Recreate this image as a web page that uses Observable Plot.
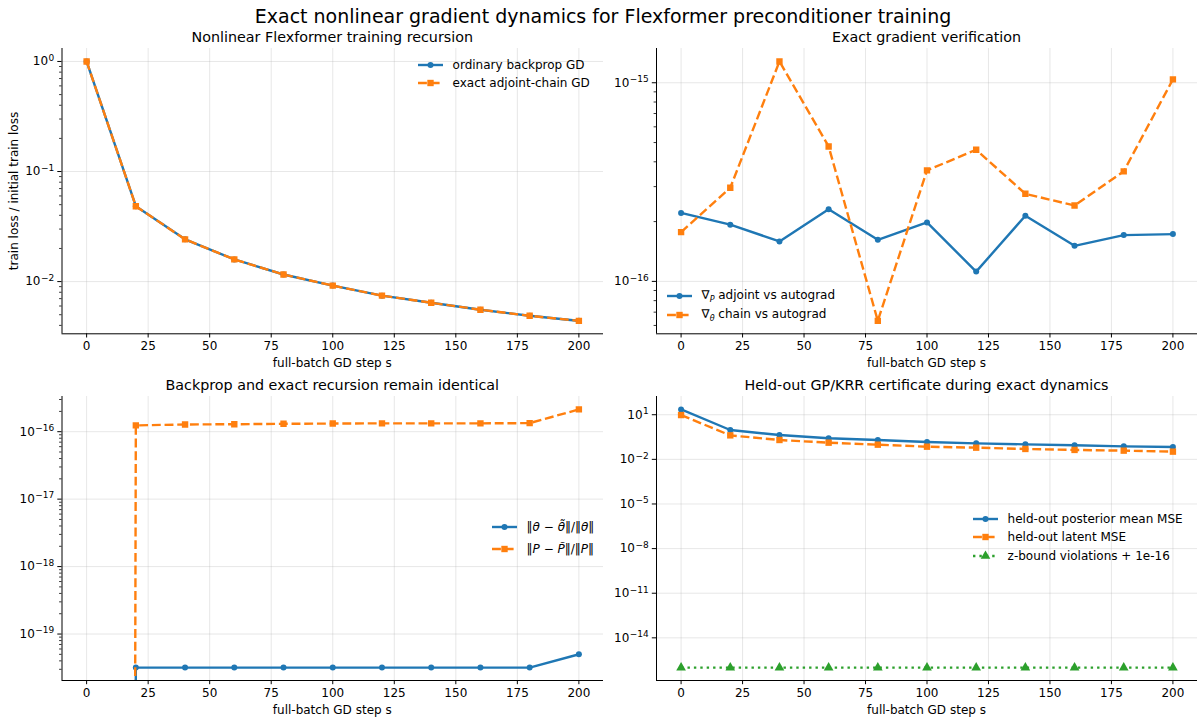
<!DOCTYPE html>
<html>
<head>
<meta charset="utf-8">
<script src="https://cdn.jsdelivr.net/npm/d3@7"></script>
<script src="https://cdn.jsdelivr.net/npm/@observablehq/plot@0.6"></script>
<style>
  body { margin: 0; background: #fff; font-family: "DejaVu Sans", sans-serif; }
  #fig { position: relative; width: 1203px; height: 724px; overflow: hidden; background: #fff; }
  #fig svg.panel { position: absolute; left: 0; top: 0; }
  .t { position: absolute; white-space: nowrap; color: #000; line-height: 1; }
  .leg { position: absolute; display: flex; align-items: center; height: 16px; font-size: 12px; color: #000; white-space: nowrap; }
  .leg svg { flex: none; }
  .leg span { margin-left: 9.6px; }
</style>
</head>
<body>
<div id="fig"></div>
<script>
// ---------------- data ----------------
const steps = [0, 20, 40, 60, 80, 100, 120, 140, 160, 180, 200];

// panel 1: nonlinear Flexformer training recursion (train loss / initial train loss)
const lossBackpropGD = [1.0, 0.0484, 0.0242, 0.0159, 0.0116, 0.0092, 0.00745, 0.00643, 0.00555, 0.00489, 0.0044];
const lossAdjointChainGD = [1.0, 0.0484, 0.0242, 0.0159, 0.0116, 0.0092, 0.00745, 0.00643, 0.00555, 0.00489, 0.0044];

// panel 2: exact gradient verification
const gradPAdjointErr = [2.21e-16, 1.93e-16, 1.59e-16, 2.31e-16, 1.62e-16, 1.98e-16, 1.12e-16, 2.14e-16, 1.51e-16, 1.71e-16, 1.73e-16];
const gradThetaChainErr = [1.77e-16, 2.96e-16, 1.28e-15, 4.78e-16, 6.33e-17, 3.62e-16, 4.6e-16, 2.76e-16, 2.41e-16, 3.58e-16, 1.04e-15];

// panel 3: backprop vs exact recursion (relative differences; 0 at s = 0)
const thetaRelDiff = [0, 3.18e-20, 3.18e-20, 3.18e-20, 3.18e-20, 3.18e-20, 3.18e-20, 3.18e-20, 3.18e-20, 3.18e-20, 5.0e-20];
const pRelDiff = [0, 1.24e-16, 1.28e-16, 1.29e-16, 1.31e-16, 1.32e-16, 1.33e-16, 1.33e-16, 1.33e-16, 1.34e-16, 2.14e-16];

// panel 4: held-out GP/KRR certificate
const heldoutPosteriorMeanMSE = [22.8, 0.94, 0.43, 0.26, 0.2, 0.147, 0.119, 0.102, 0.088, 0.075, 0.068];
const heldoutLatentMSE = [9.5, 0.41, 0.2, 0.132, 0.097, 0.071, 0.061, 0.05, 0.043, 0.0385, 0.033];
const zBoundViolations = [0, 0, 0, 0, 0, 0, 0, 0, 0, 0, 0];
const zBoundOffset = 1e-16;

// ticks
const xTicks = [0, 25, 50, 75, 100, 125, 150, 175, 200];
const xDomain = [-10, 210];
const yTicksTrain = [1e-2, 1e-1, 1e0];
const yTicksGrad = [1e-16, 1e-15];
const yTicksDiff = [1e-19, 1e-18, 1e-17, 1e-16];
const yTicksHeldout = [1e-14, 1e-11, 1e-8, 1e-5, 1e-2, 1e1];

// text
const suptitle = "Exact nonlinear gradient dynamics for Flexformer preconditioner training";
const titles = ["Nonlinear Flexformer training recursion", "Exact gradient verification",
  "Backprop and exact recursion remain identical", "Held-out GP/KRR certificate during exact dynamics"];
const xLabel = "full-batch GD step s";
const yLabelTrain = "train loss / initial train loss";

// ---------------- style ----------------
const BLUE = "#1f77b4", ORANGE = "#ff7f0e", GREEN = "#2ca02c";
const LW = 2.4;
const DASH = "8.9,3.8";
const DOT = "2.4,4";
const W = 1203, H = 724;
const frames = {
  tl: [61.5, 603, 48, 333.3],
  tr: [656, 1197, 48, 333.3],
  bl: [61.5, 603, 396, 680],
  br: [656, 1197, 396, 680]
};

const fig = document.getElementById("fig");

function logDomain(arrays) {
  const l = arrays.flat().filter(v => v > 0).map(Math.log10);
  const lo = d3.min(l), hi = d3.max(l), m = (hi - lo) * 0.05;
  return [10 ** (lo - m), 10 ** (hi + m)];
}
function minorTicks(dom) {
  const out = [];
  const e0 = Math.floor(Math.log10(dom[0])), e1 = Math.ceil(Math.log10(dom[1]));
  for (let e = e0; e <= e1; e++) for (let k = 2; k <= 9; k++) {
    const v = k * 10 ** e;
    if (v >= dom[0] && v <= dom[1]) out.push(v);
  }
  return out;
}
const powFmt = d => "10^" + String(Math.round(Math.log10(d))).replace("-", "\u2212");

function panel(frame, series, majors, withMinor) {
  const [x0, x1, y0, y1] = frame;
  const yDomain = logDomain(series.map(s => s.values.map(v => v + (s.offset || 0))));
  const marks = [
    Plot.gridX(xTicks, {stroke: "#b0b0b0", strokeOpacity: 0.3, strokeWidth: 1}),
    Plot.gridY(majors, {stroke: "#b0b0b0", strokeOpacity: 0.3, strokeWidth: 1})
  ];
  for (const s of series) {
    const data = steps.map((x, i) => ({x, y: s.values[i] + (s.offset || 0)}));
    const yAcc = d => (d.y > 0 ? d.y : 1e-300);
    marks.push(Plot.line(data, {x: "x", y: yAcc, stroke: s.color, strokeWidth: LW,
      strokeDasharray: s.dash, strokeLinecap: s.dash ? "butt" : "square", strokeLinejoin: "round", clip: true}));
    marks.push(Plot.dot(data, {x: "x", y: yAcc, symbol: s.symbol, r: s.r, fill: s.color, stroke: "none", clip: true}));
  }
  marks.push(
    Plot.axisX(xTicks, {anchor: "bottom", tickSize: 4.2, tickPadding: 3.5, fontSize: 12, label: null,
      tickFormat: d => String(d), strokeWidth: 1}),
    Plot.axisY(majors, {anchor: "left", tickSize: 4.2, tickPadding: 3.5, fontSize: 12, label: null,
      tickFormat: powFmt, strokeWidth: 1})
  );
  if (withMinor) {
    marks.push(Plot.axisY(minorTicks(yDomain), {anchor: "left", tickSize: 2.4, label: null,
      tickFormat: () => "", strokeWidth: 0.8}));
  }
  marks.push(
    Plot.ruleX([xDomain[0]], {stroke: "black", strokeWidth: 1}),
    Plot.ruleY([yDomain[0]], {stroke: "black", strokeWidth: 1})
  );
  const svg = Plot.plot({
    width: W, height: H,
    marginLeft: x0, marginRight: W - x1, marginTop: y0, marginBottom: H - y1,
    style: {background: "transparent", color: "black", fontFamily: "DejaVu Sans", fontSize: "12px", overflow: "visible"},
    x: {domain: xDomain},
    y: {type: "log", domain: yDomain},
    marks
  });
  svg.classList.add("panel");
  // render 10^k labels with real superscripts
  svg.querySelectorAll("text").forEach(t => {
    const m = /^10\^(.+)$/.exec(t.textContent);
    if (!m) return;
    t.textContent = "10";
    const ts = document.createElementNS("http://www.w3.org/2000/svg", "tspan");
    ts.setAttribute("dy", "-0.5em");
    ts.setAttribute("dx", "0.5");
    ts.setAttribute("font-size", "9px");
    ts.textContent = m[1];
    t.appendChild(ts);
  });
  fig.appendChild(svg);
}

function text(str, x, y, size, opts = {}) {
  const d = document.createElement("div");
  d.className = "t";
  d.textContent = str;
  d.style.fontSize = size + "px";
  d.style.left = x + "px";
  d.style.top = y + "px";
  d.style.transform = opts.rotate ? "translate(-50%,-50%) rotate(-90deg)" : "translate(-50%,-50%)";
  fig.appendChild(d);
}

function legend(items, x, rowYs) {
  items.forEach((it, i) => {
    const row = document.createElement("div");
    row.className = "leg";
    row.style.left = x + "px";
    row.style.top = (rowYs[i] - 8) + "px";
    const s = d3.create("svg").attr("width", 25).attr("height", 16);
    s.append("line").attr("x1", 0).attr("x2", 25).attr("y1", 8).attr("y2", 8)
      .attr("stroke", it.color).attr("stroke-width", LW)
      .attr("stroke-dasharray", it.dash || null)
      .attr("stroke-linecap", it.dash ? "butt" : "square");
    const sym = d3.symbol(it.symbol === "square" ? d3.symbolSquare : it.symbol === "triangle" ? d3.symbolTriangle : d3.symbolCircle,
      Math.PI * it.r * it.r);
    s.append("path").attr("d", sym()).attr("transform", "translate(12.5,8)").attr("fill", it.color);
    row.appendChild(s.node());
    const sp = document.createElement("span");
    sp.innerHTML = it.html;
    row.appendChild(sp);
    fig.appendChild(row);
  });
}

// ---------------- series ----------------
const sBackprop = {values: lossBackpropGD, color: BLUE, symbol: "circle", r: 3, html: "ordinary backprop GD"};
const sAdjoint = {values: lossAdjointChainGD, color: ORANGE, dash: DASH, symbol: "square", r: 3.6, html: "exact adjoint-chain GD"};
const sGradP = {values: gradPAdjointErr, color: BLUE, symbol: "circle", r: 3, html: "\u2207<sub style='font-size:8px'><i>P</i></sub> adjoint vs autograd"};
const sGradT = {values: gradThetaChainErr, color: ORANGE, dash: DASH, symbol: "square", r: 3.6, html: "\u2207<sub style='font-size:8px'><i>\u03b8</i></sub> chain vs autograd"};
const sTheta = {values: thetaRelDiff, color: BLUE, symbol: "circle", r: 3, html: "\u2016<i>\u03b8</i> \u2212 <i>\u03b8\u0303</i>\u2016/\u2016<i>\u03b8</i>\u2016"};
const sP = {values: pRelDiff, color: ORANGE, dash: DASH, symbol: "square", r: 3.6, html: "\u2016<i>P</i> \u2212 <i>P\u0303</i>\u2016/\u2016<i>P</i>\u2016"};
const sPost = {values: heldoutPosteriorMeanMSE, color: BLUE, symbol: "circle", r: 3, html: "held-out posterior mean MSE"};
const sLatent = {values: heldoutLatentMSE, color: ORANGE, dash: DASH, symbol: "square", r: 3.6, html: "held-out latent MSE"};
const sZ = {values: zBoundViolations, offset: zBoundOffset, color: GREEN, dash: DOT, symbol: "triangle", r: 3.6, html: "z-bound violations + 1e-16"};

// ---------------- draw ----------------
panel(frames.tl, [sBackprop, sAdjoint], yTicksTrain, true);
panel(frames.tr, [sGradP, sGradT], yTicksGrad, true);
panel(frames.bl, [sTheta, sP], yTicksDiff, true);
panel(frames.br, [sPost, sLatent, sZ], yTicksHeldout, false);

text(suptitle, 603, 16, 19);
const cx = f => (f[0] + f[1]) / 2;
text(titles[0], cx(frames.tl), 37, 14.3);
text(titles[1], cx(frames.tr), 37, 14.3);
text(titles[2], cx(frames.bl), 384.5, 14.3);
text(titles[3], cx(frames.br), 384.5, 14.3);
text(xLabel, cx(frames.tl), 362.5, 12);
text(xLabel, cx(frames.tr), 362.5, 12);
text(xLabel, cx(frames.bl), 710, 12);
text(xLabel, cx(frames.br), 710, 12);
text(yLabelTrain, 14, (frames.tl[2] + frames.tl[3]) / 2, 12, {rotate: true});

legend([sBackprop, sAdjoint], 418, [65, 83.3]);
legend([sGradP, sGradT], 667, [295.7, 315.3]);
legend([sTheta, sP], 492, [526.7, 549]);
legend([sPost, sLatent, sZ], 973, [519, 537.3, 555.7]);
</script>
</body>
</html>
